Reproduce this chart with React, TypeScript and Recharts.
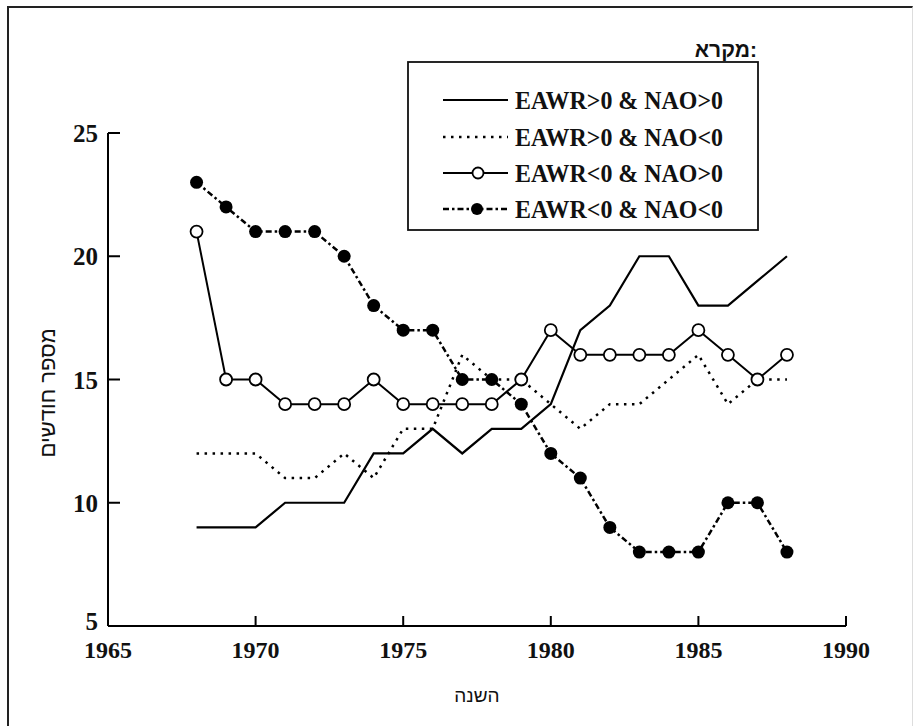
import { Legend, Line, LineChart, XAxis, YAxis } from 'recharts'

const years = [1968, 1969, 1970, 1971, 1972, 1973, 1974, 1975, 1976, 1977, 1978, 1979, 1980, 1981, 1982, 1983, 1984, 1985, 1986, 1987, 1988]
const posPos = [9, 9, 9, 10, 10, 10, 12, 12, 13, 12, 13, 13, 14, 17, 18, 20, 20, 18, 18, 19, 20]
const posNeg = [12, 12, 12, 11, 11, 12, 11, 13, 13, 16, 15, 15, 14, 13, 14, 14, 15, 16, 14, 15, 15]
const negPos = [21, 15, 15, 14, 14, 14, 15, 14, 14, 14, 14, 15, 17, 16, 16, 16, 16, 17, 16, 15, 16]
const negNeg = [23, 22, 21, 21, 21, 20, 18, 17, 17, 15, 15, 14, 12, 11, 9, 8, 8, 8, 10, 10, 8]

const xTicks = [1965, 1970, 1975, 1980, 1985, 1990]
const yTicks = [5, 10, 15, 20, 25]

const data = years.map((year, i) => ({
  year,
  posPos: posPos[i],
  posNeg: posNeg[i],
  negPos: negPos[i],
  negNeg: negNeg[i],
}))

const serif = '"Liberation Serif", "Times New Roman", serif'
const sans = '"Liberation Sans", Arial, sans-serif'

const series = [
  { key: 'posPos', name: 'EAWR>0 & NAO>0', dash: undefined, width: 2.2, dot: 'none' },
  { key: 'posNeg', name: 'EAWR>0 & NAO<0', dash: '2.5 5.5', width: 2.5, dot: 'none' },
  { key: 'negPos', name: 'EAWR<0 & NAO>0', dash: undefined, width: 2, dot: 'open' },
  { key: 'negNeg', name: 'EAWR<0 & NAO<0', dash: '6 3 2.5 3', width: 2.5, dot: 'filled' },
]

function XTick({ x, y, payload }: any) {
  return (
    <g>
      <line x1={x} y1={y} x2={x} y2={y - 10} stroke="#000" strokeWidth={2} />
      <text x={x} y={y + 32} textAnchor="middle" style={{ fontFamily: serif }} fontWeight="bold" fontSize={24} fill="#111">
        {payload.value}
      </text>
    </g>
  )
}

function YTick({ x, y, payload }: any) {
  // the bottom label sits tight above "1965", as in the original
  const shift = payload.value === 5 ? 4 : 9
  return (
    <g>
      <line x1={x} y1={y} x2={x + 12} y2={y} stroke="#000" strokeWidth={2} />
      <text x={x - 10} y={y + shift} textAnchor="end" style={{ fontFamily: serif }} fontWeight="bold" fontSize={25} fill="#111">
        {payload.value}
      </text>
    </g>
  )
}

function LegendBox() {
  const rows = [70, 107, 143, 179]
  return (
    <svg width={380} height={210}>
      <text x={367} y={27} textAnchor="end" style={{ fontFamily: sans }} fontWeight="bold" fontSize={21} fill="#111">
        מקרא:
      </text>
      <rect x={18} y={32} width={350} height={168} fill="#fff" stroke="#111" strokeWidth={1.8} />
      {series.map((s, i) => (
        <g key={s.key}>
          <line x1={53} y1={rows[i]} x2={118} y2={rows[i]} stroke="#000" strokeWidth={s.width} strokeDasharray={s.dash} />
          {s.dot === 'open' && <circle cx={88} cy={rows[i]} r={5.5} fill="#fff" stroke="#000" strokeWidth={1.8} />}
          {s.dot === 'filled' && <circle cx={87} cy={rows[i]} r={6} fill="#000" />}
          <text
            x={125}
            y={rows[i] + 9}
            textLength={208}
            lengthAdjust="spacingAndGlyphs"
            style={{ fontFamily: serif }}
            fontWeight="bold"
            fontSize={26}
            fill="#111"
          >
            {s.name}
          </text>
        </g>
      ))}
    </svg>
  )
}

export default function App() {
  return (
    <div style={{ position: 'absolute', left: 0, top: 0, width: 917, height: 726, background: '#fff', overflow: 'hidden' }}>
      <div
        style={{
          position: 'absolute',
          left: 7,
          top: 6,
          width: 903,
          height: 730,
          borderTop: '2px solid #222',
          borderLeft: '2px solid #222',
          borderRight: '1px solid #ddd',
        }}
      />
      <LineChart width={917} height={726} data={data} margin={{ top: 133, right: 71, bottom: 70, left: 48 }}>
        <XAxis
          dataKey="year"
          type="number"
          domain={[1965, 1990]}
          ticks={xTicks}
          interval={0}
          height={30}
          stroke="#000"
          strokeWidth={2}
          tickSize={0}
          tickMargin={0}
          tickLine={false}
          tick={<XTick />}
          label={{ value: 'השנה', position: 'insideBottom', offset: -46, fontFamily: sans, fontSize: 19, fill: '#111' }}
        />
        <YAxis
          type="number"
          domain={[5, 25]}
          ticks={yTicks}
          interval={0}
          width={60}
          stroke="#000"
          strokeWidth={2}
          tickSize={0}
          tickMargin={0}
          tickLine={false}
          tick={<YTick />}
          label={{ value: 'מספר חודשים', angle: -90, position: 'insideLeft', offset: -1, dy: 78, fontFamily: sans, fontSize: 22, fill: '#111' }}
        />
        <Legend
          layout="horizontal"
          verticalAlign="middle"
          align="center"
          wrapperStyle={{ position: 'absolute', left: 390, top: 30, width: 380, height: 210 }}
          content={() => <LegendBox />}
        />
        {series.map((s) => (
          <Line
            key={s.key}
            type="linear"
            dataKey={s.key}
            name={s.name}
            stroke="#000"
            strokeWidth={s.width}
            strokeDasharray={s.dash}
            isAnimationActive={false}
            dot={
              s.dot === 'open'
                ? { r: 6, fill: '#fff', stroke: '#000', strokeWidth: 1.8, strokeDasharray: '' }
                : s.dot === 'filled'
                  ? { r: 6.5, fill: '#000', stroke: '#000', strokeWidth: 0, strokeDasharray: '' }
                  : false
            }
            activeDot={false}
          />
        ))}
      </LineChart>
    </div>
  )
}
